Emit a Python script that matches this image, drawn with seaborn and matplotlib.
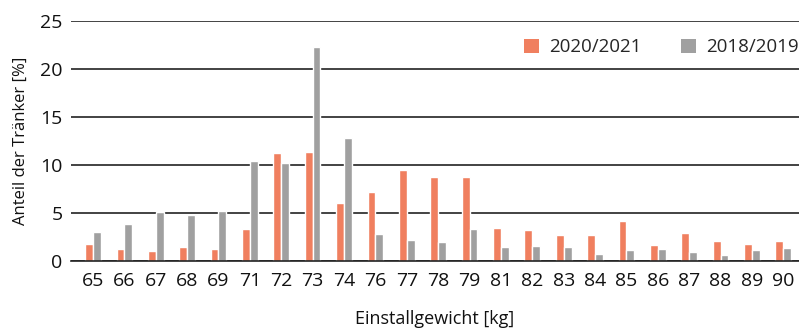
import matplotlib
matplotlib.use("Agg")
import matplotlib.pyplot as plt
import seaborn as sns
import pandas as pd
from matplotlib.patches import Patch

categories = ["65", "66", "67", "68", "69", "71", "72", "73", "74", "76", "77",
              "78", "79", "81", "82", "83", "84", "85", "86", "87", "88", "89", "90"]
s2020 = [1.8, 1.25, 1.05, 1.45, 1.25, 3.35, 11.2, 11.4, 6.0, 7.2, 9.5,
         8.8, 8.7, 3.4, 3.25, 2.75, 2.75, 4.2, 1.65, 2.9, 2.05, 1.8, 2.05]
s2018 = [3.05, 3.9, 5.1, 4.8, 5.25, 10.45, 10.25, 22.25, 12.8, 2.8, 2.2,
         1.95, 3.35, 1.5, 1.6, 1.5, 0.75, 1.1, 1.3, 0.95, 0.6, 1.1, 1.4]
series = ["2020/2021", "2018/2019"]
colors = ["#F07F5F", "#A0A0A0"]

df = pd.DataFrame({
    "cat": categories * 2,
    "val": s2020 + s2018,
    "series": [series[0]] * len(categories) + [series[1]] * len(categories),
})

sns.set_theme(style="white")
plt.rcParams["font.family"] = ["Open Sans", "DejaVu Sans"]

fig = plt.figure(figsize=(7.99, 3.29), dpi=100)
ax = fig.add_axes([71 / 799, 68 / 329, 728 / 799, 240 / 329])

sns.barplot(data=df, x="cat", y="val", hue="series", palette=colors,
            saturation=1, width=0.5, edgecolor="white", linewidth=1.0, ax=ax,
            order=categories, hue_order=series, legend=False)

ax.set_ylim(0, 25)
ax.set_yticks([0, 5, 10, 15, 20, 25])
ax.set_xlim(-0.7, len(categories) - 0.5)
ax.yaxis.grid(True, color="#222222", linewidth=1.2)
ax.set_axisbelow(True)
for s in ["top", "right", "left"]:
    ax.spines[s].set_visible(False)
ax.spines["bottom"].set_color("#222222")
ax.spines["bottom"].set_linewidth(1.2)
ax.tick_params(axis="both", length=0, labelsize=14, colors="#111111")
ax.tick_params(axis="x", pad=8)
ax.tick_params(axis="y", pad=6)

ax.set_xlabel("Einstallgewicht [kg]", fontsize=13, color="#111111", labelpad=14)
ax.set_ylabel("Anteil der Tränker [%]", fontsize=12, color="#111111", labelpad=8)

handles = [Patch(facecolor=c, edgecolor="none") for c in colors]
ax.legend(handles, series, loc="upper right", bbox_to_anchor=(1.015, 0.975), ncol=2,
          frameon=False, fontsize=13.5, handlelength=0.8, handleheight=0.8,
          columnspacing=2.1, handletextpad=0.55, borderaxespad=0.2)

fig.savefig("out.png", dpi=100)
